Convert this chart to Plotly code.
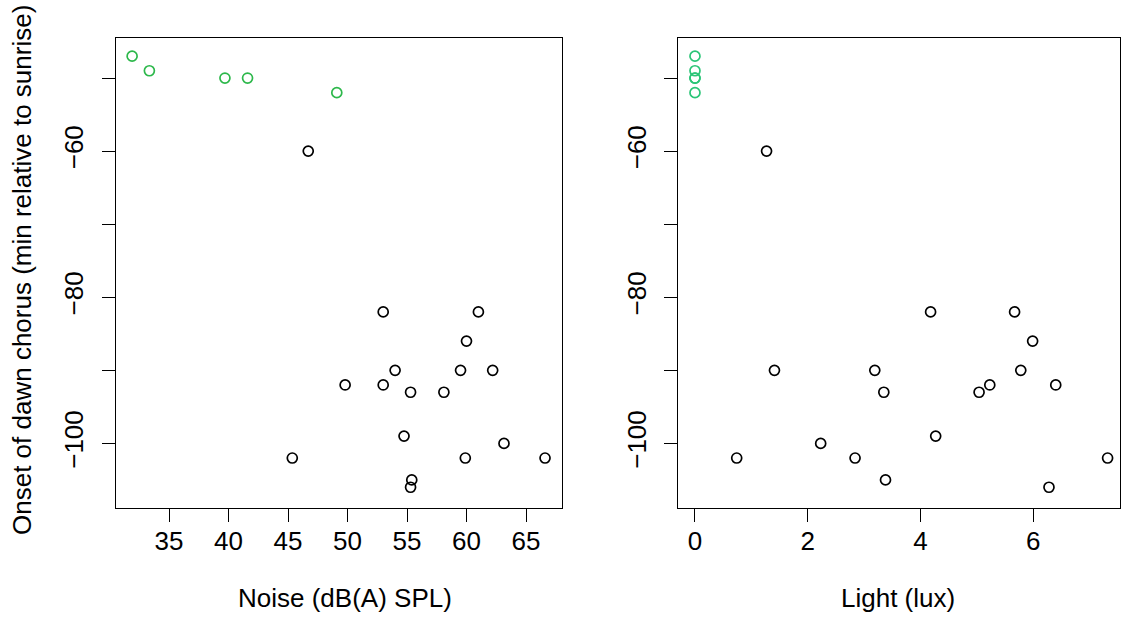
import plotly.graph_objects as go

# Left panel: noise
noise_green = [31.9, 33.35, 39.7, 41.6, 49.1]
onset_green_noise = [-47, -49, -50, -50, -52]
noise_black = [46.7, 53.0, 61.0, 60.0, 54.0, 59.5, 62.2, 49.8, 53.0, 55.3, 58.1,
               54.75, 63.15, 45.36, 59.9, 66.6, 55.4, 55.3]
onset_black_noise = [-60, -82, -82, -86, -90, -90, -90, -92, -92, -93, -93,
                     -99, -100, -102, -102, -102, -105, -106]

# Right panel: light
light_green = [0, 0, 0, 0, 0]
onset_green_light = [-47, -49, -50, -50, -52]
light_black = [1.27, 4.18, 5.67, 5.99, 1.41, 3.19, 5.78, 5.23, 6.40, 3.35, 5.04,
               4.27, 2.23, 0.74, 2.84, 7.32, 3.38, 6.28]
onset_black_light = [-60, -82, -82, -86, -90, -90, -90, -92, -92, -93, -93,
                     -99, -100, -102, -102, -102, -105, -106]

x1_ticks = [35, 40, 45, 50, 55, 60, 65]
x2_ticks = [0, 2, 4, 6]
y_ticks = [-100, -90, -80, -70, -60, -50]
y_ticktext = ["\u2212100", "", "\u221280", "", "\u221260", ""]

W, H = 1122, 619
FONT = "Liberation Sans, Arial, sans-serif"
FS = 26

def mk(xs, ys, color, xa, ya):
    return go.Scatter(x=xs, y=ys, mode="markers", xaxis=xa, yaxis=ya,
                      marker=dict(symbol="circle-open", size=10, color=color,
                                  line=dict(width=1.7, color=color)),
                      showlegend=False, hoverinfo="skip")

fig = go.Figure()
fig.add_trace(mk(noise_black, onset_black_noise, "black", "x", "y"))
fig.add_trace(mk(noise_green, onset_green_noise, "#2DB84B", "x", "y"))
fig.add_trace(mk(light_black, onset_black_light, "black", "x2", "y2"))
fig.add_trace(mk(light_green, onset_green_light, "#2BC577", "x2", "y2"))

ydom = [1 - 508 / H, 1 - 37.5 / H]
common_ax = dict(showline=True, linecolor="black", linewidth=1.3, mirror=True,
                 ticks="outside", ticklen=13, tickwidth=1.3, tickcolor="black",
                 showgrid=False, zeroline=False, automargin=False,
                 tickfont=dict(family=FONT, size=FS, color="black"))

fig.update_layout(
    width=W, height=H, margin=dict(l=0, r=0, t=0, b=0),
    paper_bgcolor="white", plot_bgcolor="white",
    xaxis=dict(domain=[115.7 / W, 561.7 / W], range=[30.52, 68.0],
               tickvals=x1_ticks, anchor="y", ticklabelstandoff=-3, **common_ax),
    yaxis=dict(domain=ydom, range=[-108.84, -44.45], tickvals=y_ticks,
               ticktext=y_ticktext, tickangle=-90, anchor="x",
               ticklabelstandoff=8, **common_ax),
    xaxis2=dict(domain=[678.3 / W, 1120 / W], range=[-0.296, 7.54],
                tickvals=x2_ticks, anchor="y2", ticklabelstandoff=-3, **common_ax),
    yaxis2=dict(domain=ydom, range=[-108.84, -44.45], tickvals=y_ticks,
                ticktext=y_ticktext, tickangle=-90, anchor="x2",
                ticklabelstandoff=8, **common_ax),
    font=dict(family=FONT, size=FS, color="black"),
)

fig.add_annotation(text="Noise (dB(A) SPL)", xref="paper", yref="paper",
                   x=345 / W, y=1 - 598 / H, showarrow=False,
                   font=dict(family=FONT, size=FS, color="black"),
                   xanchor="center", yanchor="middle")
fig.add_annotation(text="Light (lux)", xref="paper", yref="paper",
                   x=897.5 / W, y=1 - 598 / H, showarrow=False,
                   font=dict(family=FONT, size=FS, color="black"),
                   xanchor="center", yanchor="middle")
fig.add_annotation(text="Onset of dawn chorus (min relative to sunrise)",
                   xref="paper", yref="paper", x=22 / W, y=1 - 270 / H,
                   showarrow=False, textangle=-90,
                   font=dict(family=FONT, size=FS, color="black"),
                   xanchor="center", yanchor="middle")

fig.write_html("out.html", config={"displayModeBar": False},
               post_script="document.body.style.margin='0';"
                           "document.body.style.overflow='hidden';")
